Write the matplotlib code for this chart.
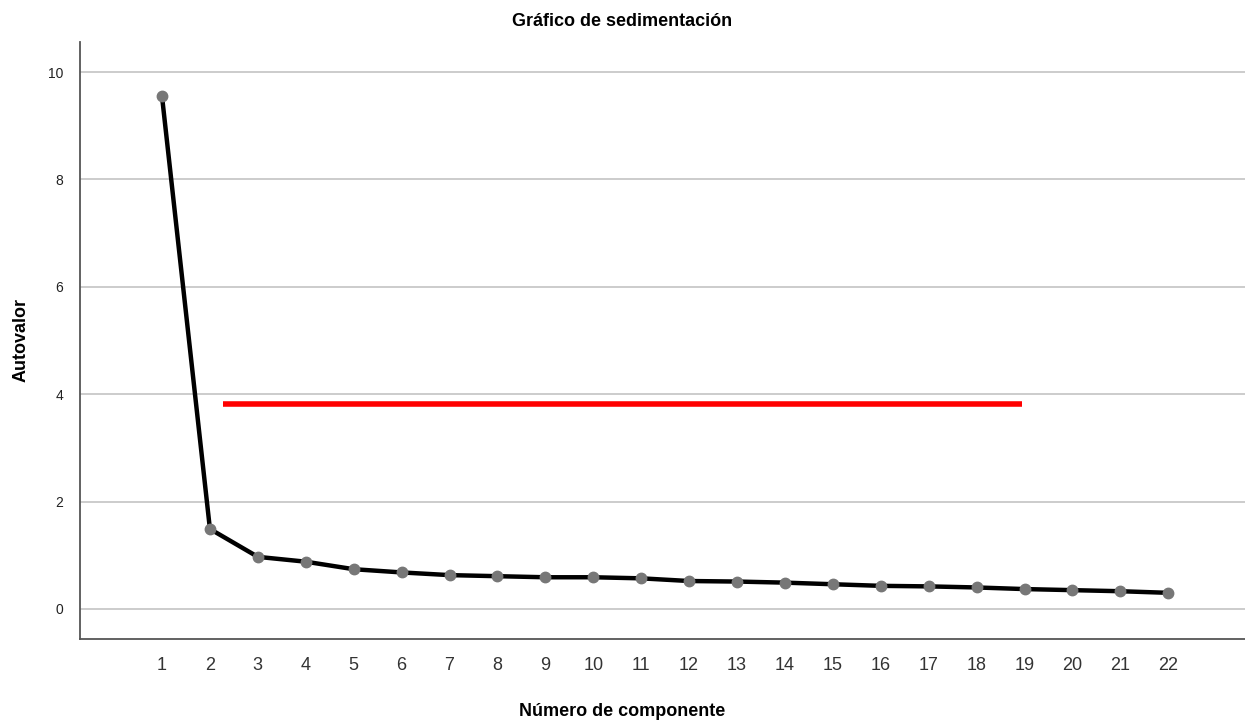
import matplotlib
matplotlib.use("Agg")
import matplotlib.pyplot as plt

plt.rcParams['font.family'] = ['Liberation Sans', 'DejaVu Sans']

# --- Data ---
components = list(range(1, 23))
eigenvalues = [9.55, 1.49, 0.97, 0.88, 0.74, 0.68, 0.63, 0.61, 0.59, 0.59, 0.57,
               0.52, 0.51, 0.49, 0.46, 0.43, 0.42, 0.40, 0.37, 0.35, 0.33, 0.30]
y_ticks = [0, 2, 4, 6, 8, 10]

# red annotation line
red_x = [2.27, 18.95]
red_y = [3.82, 3.82]

fig = plt.figure(figsize=(12.45, 7.24), dpi=100)
ax = fig.add_axes([0.0643, 0.1174, 0.9357, 0.8246])

ax.plot(components, eigenvalues, color="black", linewidth=3.2, zorder=3)
ax.plot(components, eigenvalues, linestyle="none", marker="o", markersize=7.5,
        color="#777777", zorder=4)
ax.plot(red_x, red_y, color="#ff0000", linewidth=4, solid_capstyle="butt", zorder=3)

ax.set_xlim(-0.71, 23.6)
ax.set_ylim(-0.56, 10.56)
ax.set_xticks(components)
ax.set_yticks(y_ticks)
ax.tick_params(axis="x", length=0, pad=13, labelsize=13, labelcolor="#333333")
ax.tick_params(axis="y", length=0, pad=12, labelsize=10, labelcolor="#222222")

ax.grid(axis="y", color="#c8c8c8", linewidth=1.3)
ax.set_axisbelow(True)
for side in ["top", "right"]:
    ax.spines[side].set_visible(False)
ax.spines["left"].set_color("#555555")
ax.spines["bottom"].set_color("#555555")
ax.spines["left"].set_linewidth(1.3)
ax.spines["bottom"].set_linewidth(1.3)

fig.text(0.5, 0.97, "Gráfico de sedimentación", ha="center", va="center",
         fontsize=13, fontweight="bold")
fig.text(0.5, 0.017, "Número de componente", ha="center", va="center",
         fontsize=13, fontweight="bold")
fig.text(0.017, 0.53, "Autovalor", ha="center", va="center", rotation=90,
         fontsize=13, fontweight="bold")

plt.savefig("out.png", dpi=100)
